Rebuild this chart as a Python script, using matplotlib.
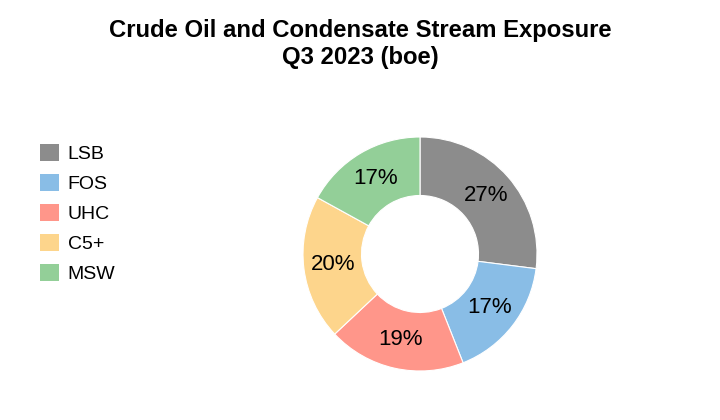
import matplotlib
matplotlib.use("Agg")
import matplotlib.pyplot as plt
from matplotlib.patches import Patch

plt.rcParams["font.family"] = ["Liberation Sans", "DejaVu Sans"]

streams = ["LSB", "FOS", "UHC", "C5+", "MSW"]
shares = [27, 17, 19, 20, 17]
colors = ["#8c8c8c", "#89bde6", "#ff968a", "#fdd58c", "#93cf98"]

W, H = 720, 420
fig = plt.figure(figsize=(W / 100, H / 100), dpi=100)

fig.text(0.5, 1 - 44 / H, "Crude Oil and Condensate Stream Exposure\nQ3 2023 (boe)",
         ha="center", va="center", fontsize=17.2, fontweight="bold", linespacing=1.22)

# donut centred at (420, 254) px, outer radius 117 px
cx, cy, r = 420, 254, 117
ax = fig.add_axes([(cx - r) / W, (H - cy - r) / H, 2 * r / W, 2 * r / H])
wedges, texts, autotexts = ax.pie(
    shares, colors=colors, startangle=90, counterclock=False,
    wedgeprops=dict(width=0.5, edgecolor="white", linewidth=0.8),
    autopct=lambda p: f"{p:.0f}%", pctdistance=0.75,
    textprops=dict(fontsize=16, color="black"),
)
ax.set_xlim(-1, 1)
ax.set_ylim(-1, 1)
ax.set_aspect("equal")

handles = [Patch(facecolor=c, edgecolor="none") for c in colors]
fig.legend(handles, streams, loc="upper left", bbox_to_anchor=(22 / W, 1 - 126 / H),
           frameon=False, fontsize=14, handlelength=1.0, handleheight=1.0,
           handletextpad=0.45, labelspacing=0.55, borderpad=0.4)

fig.savefig("out.png", dpi=100)
